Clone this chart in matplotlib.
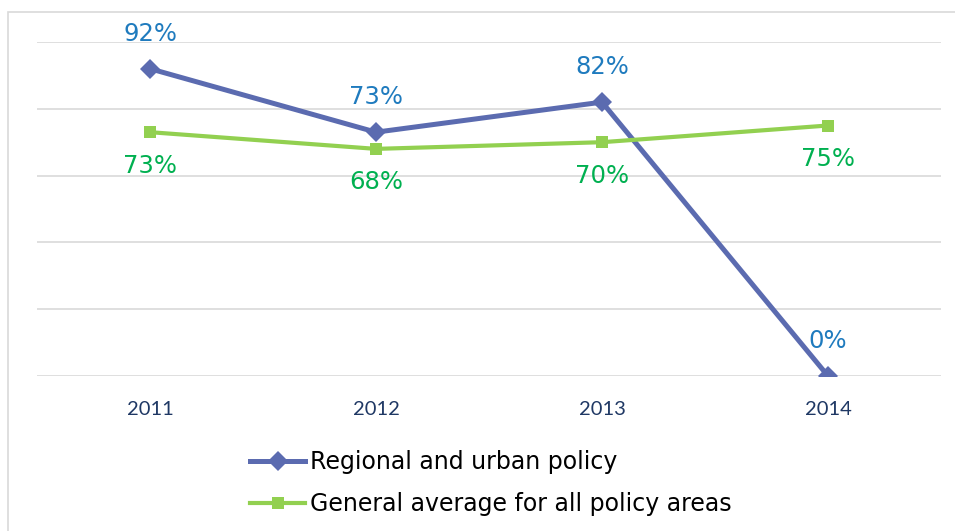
# line chart: regional and urban policy vs general average
import matplotlib.pyplot as plt
from matplotlib.patches import Rectangle

years = ['2011', '2012', '2013', '2014']
regional = [92, 73, 82, 0]
general = [73, 68, 70, 75]

blue_line = '#5B6BB0'
blue_text = '#1F7BBE'
green_line = '#92D050'
green_text = '#00B050'

fig = plt.figure(figsize=(9.55, 5.31), dpi=100)
ax = fig.add_axes([37 / 955, 1 - 376 / 531, 904 / 955, 334 / 531])

# outer frame of the chart area
fig.patches.append(Rectangle((8 / 955, -0.05), 1.0, 1 - 12 / 531 + 0.05,
                             transform=fig.transFigure, fill=False,
                             edgecolor='#D9D9D9', linewidth=1.2))

x = list(range(len(years)))
ax.plot(x, regional, color=blue_line, lw=3.6, marker='D', ms=10,
        mew=0, label='Regional and urban policy', zorder=3)
ax.plot(x, general, color=green_line, lw=3, marker='s', ms=8.5,
        mew=0, label='General average for all policy areas', zorder=3)

for i, v in enumerate(regional):
    ax.annotate(f'{v}%', (i, v), xytext=(0, 25), textcoords='offset points',
                ha='center', va='center', fontsize=17.5, color=blue_text)
for i, v in enumerate(general):
    ax.annotate(f'{v}%', (i, v), xytext=(0, -24), textcoords='offset points',
                ha='center', va='center', fontsize=17.5, color=green_text)

ax.set_xlim(-0.5, 3.5)
ax.set_ylim(0, 100)
ax.set_yticks([0, 20, 40, 60, 80, 100])
ax.set_yticklabels([])
ax.grid(axis='y', color='#D9D9D9', lw=1.2)
ax.set_axisbelow(True)
ax.set_xticks(x)
ax.set_xticklabels(years, fontfamily='Lato', fontsize=14.5, color='#1F3864')
ax.tick_params(length=0, pad=18)
for s in ax.spines.values():
    s.set_visible(False)

fig.legend(loc='upper left', bbox_to_anchor=(250 / 955, 1 - 450 / 531),
           frameon=False, fontsize=17, handlelength=2.35, handletextpad=0.2,
           labelspacing=0.78, borderpad=0, borderaxespad=0)

plt.savefig('out.png', dpi=100)
